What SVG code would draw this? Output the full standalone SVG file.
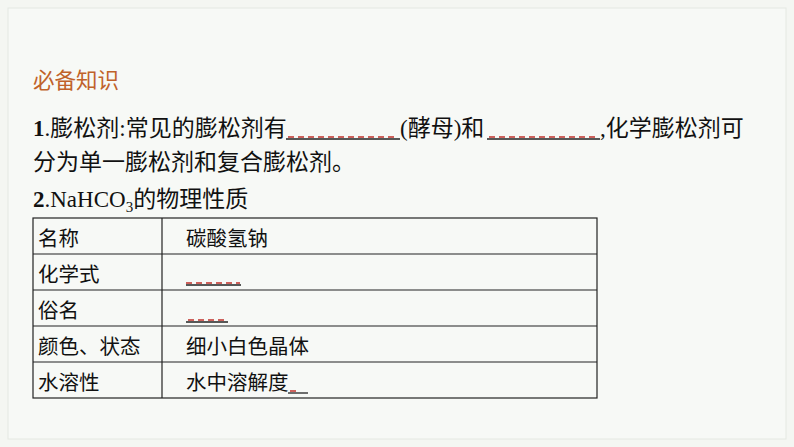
<svg xmlns="http://www.w3.org/2000/svg" width="794" height="447" viewBox="0 0 794 447">
<style>
.t{font-family:"Liberation Serif","Noto Sans CJK SC",serif;font-size:23px;fill:#111}
.c{font-family:"Noto Sans CJK SC",sans-serif;font-size:20.5px;fill:#111}
.ul{stroke:#222;stroke-width:1.3}
.rd{stroke:#c0302a;stroke-width:1.5;stroke-dasharray:6 4}
.g{stroke:#222;stroke-width:1.2;fill:none}
</style>
<rect width="794" height="447" fill="#f4f6f2"/>
<rect x="8" y="8" width="778" height="431" fill="#f7f9f6" stroke="#e4e8e2"/>
<g id="title"><text x="33" y="88" font-family="Noto Sans CJK SC,sans-serif" font-size="21.5" fill="#c0622a">必备知识</text></g>
<g id="para">
<text class="t" x="33" y="136"><tspan font-weight="bold">1</tspan>.膨松剂:常见的膨松剂有</text>
<line class="ul" x1="286" y1="139" x2="400" y2="139"/><line class="rd" x1="288" y1="137" x2="398" y2="137"/>
<text class="t" x="400" y="136">(酵母)和</text>
<line class="ul" x1="487" y1="139" x2="600" y2="139"/><line class="rd" x1="489" y1="137" x2="598" y2="137"/>
<text class="t" x="600" y="136">,化学膨松剂可</text>
<text class="t" x="33" y="170">分为单一膨松剂和复合膨松剂。</text>
<text class="t" x="33" y="207"><tspan font-weight="bold">2</tspan>.NaHCO<tspan font-size="15" dy="5">3</tspan><tspan dy="-5">的物理性质</tspan></text>
</g>
<g id="table">
<rect class="g" x="33" y="218" width="564" height="180"/>
<line class="g" x1="162" y1="218" x2="162" y2="398"/>
<line class="g" x1="33" y1="254" x2="597" y2="254"/>
<line class="g" x1="33" y1="290" x2="597" y2="290"/>
<line class="g" x1="33" y1="326" x2="597" y2="326"/>
<line class="g" x1="33" y1="362" x2="597" y2="362"/>
<text class="c" x="38" y="246">名称</text><text class="c" x="186" y="246">碳酸氢钠</text>
<text class="c" x="38" y="282">化学式</text>
<line class="ul" x1="186" y1="285" x2="241" y2="285"/><line class="rd" x1="186" y1="283" x2="240" y2="283"/>
<text class="c" x="38" y="318">俗名</text>
<line class="ul" x1="186" y1="322" x2="228" y2="322"/><line class="rd" x1="188" y1="320" x2="228" y2="320"/>
<text class="c" x="38" y="354">颜色、状态</text><text class="c" x="186" y="354">细小白色晶体</text>
<text class="c" x="38" y="390">水溶性</text><text class="c" x="186" y="390">水中溶解度</text>
<line class="ul" x1="288" y1="393" x2="308" y2="393"/><line class="rd" x1="290" y1="391" x2="298" y2="391"/>
</g>
</svg>
